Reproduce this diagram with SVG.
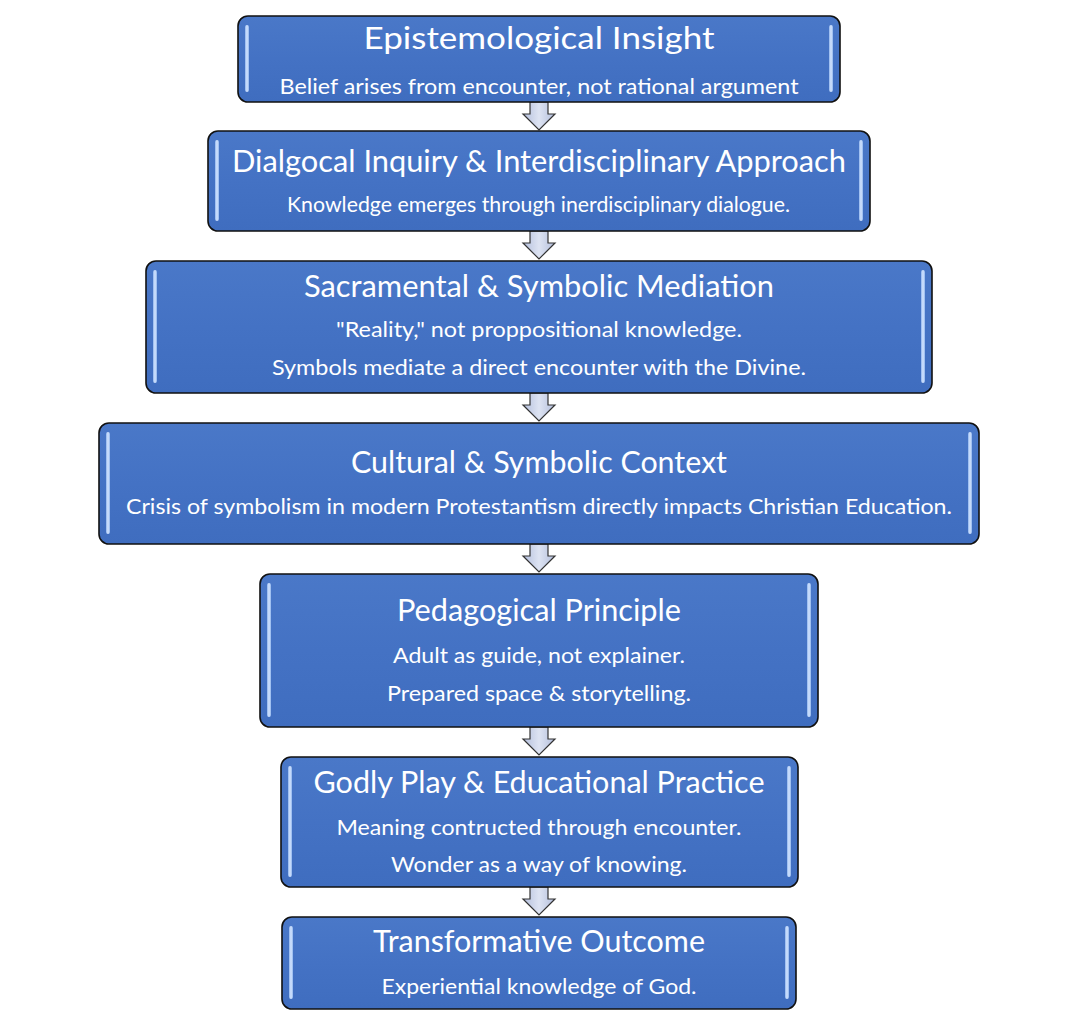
<svg xmlns="http://www.w3.org/2000/svg" width="1078" height="1019" viewBox="0 0 1078 1019">
<defs>
<linearGradient id="boxg" x1="0" y1="0" x2="0" y2="1">
<stop offset="0" stop-color="#4a78c8"/>
<stop offset="0.5" stop-color="#4472c4"/>
<stop offset="1" stop-color="#3f6dbf"/>
</linearGradient>
<linearGradient id="barg" x1="0" y1="0" x2="1" y2="0">
<stop offset="0" stop-color="#8fb4ec"/>
<stop offset="0.5" stop-color="#d6e6ff"/>
<stop offset="1" stop-color="#8fb4ec"/>
</linearGradient>
<linearGradient id="arrg" x1="0" y1="0" x2="1" y2="0">
<stop offset="0" stop-color="#b4bfdc"/>
<stop offset="0.5" stop-color="#dde3f2"/>
<stop offset="1" stop-color="#b4bfdc"/>
</linearGradient>
<path id="arr" d="M-9,0 H9 V12 H16 L0,28 L-16,12 H-9 Z"/>
</defs>
<style>
.box{fill:url(#boxg);stroke:#111;stroke-width:1.6}
.bar{fill:url(#barg)}
.t{font-family:Lato,"Open Sans",sans-serif;fill:#fff;text-anchor:middle}
.h{font-size:31px}
.s{font-size:21px}
.a{fill:url(#arrg);stroke:#333;stroke-width:1.2;stroke-linejoin:miter}
</style>
<rect width="1078" height="1019" fill="#fff"/>
<g id="connectors">
<use href="#arr" class="a" x="539" y="102"/>
<use href="#arr" class="a" x="539" y="231"/>
<use href="#arr" class="a" x="539" y="393"/>
<use href="#arr" class="a" x="539" y="544"/>
<use href="#arr" class="a" x="539" y="727"/>
<use href="#arr" class="a" x="539" y="887"/>
</g>
<g id="n1">
<rect class="box" x="238" y="16" width="602" height="86" rx="10"/>
<rect class="bar" x="245" y="25" width="4" height="67" rx="2"/>
<rect class="bar" x="829" y="25" width="4" height="67" rx="2"/>
<text class="t h" x="539" y="49" textLength="351" lengthAdjust="spacingAndGlyphs">Epistemological Insight</text>
<text class="t s" x="539" y="94" textLength="519" lengthAdjust="spacingAndGlyphs">Belief arises from encounter, not rational argument</text>
</g>
<g id="n2">
<rect class="box" x="208" y="131" width="662" height="100" rx="10"/>
<rect class="bar" x="215" y="140" width="4" height="81" rx="2"/>
<rect class="bar" x="859" y="140" width="4" height="81" rx="2"/>
<text class="t h" x="539" y="172" textLength="614" lengthAdjust="spacingAndGlyphs">Dialgocal Inquiry &amp; Interdisciplinary Approach</text>
<text class="t s" x="538.5" y="212" textLength="503" lengthAdjust="spacingAndGlyphs">Knowledge emerges through inerdisciplinary dialogue.</text>
</g>
<g id="n3">
<rect class="box" x="146" y="261" width="786" height="132" rx="10"/>
<rect class="bar" x="153" y="270" width="4" height="113" rx="2"/>
<rect class="bar" x="921" y="270" width="4" height="113" rx="2"/>
<text class="t h" x="539" y="297" textLength="470" lengthAdjust="spacingAndGlyphs">Sacramental &amp; Symbolic Mediation</text>
<text class="t s" x="539" y="337" textLength="406" lengthAdjust="spacingAndGlyphs">"Reality," not proppositional knowledge.</text>
<text class="t s" x="539" y="375" textLength="534" lengthAdjust="spacingAndGlyphs">Symbols mediate a direct encounter with the Divine.</text>
</g>
<g id="n4">
<rect class="box" x="99" y="423" width="880" height="121" rx="10"/>
<rect class="bar" x="106" y="432" width="4" height="102" rx="2"/>
<rect class="bar" x="968" y="432" width="4" height="102" rx="2"/>
<text class="t h" x="539" y="473" textLength="376" lengthAdjust="spacingAndGlyphs">Cultural &amp; Symbolic Context</text>
<text class="t s" x="539" y="514" textLength="826" lengthAdjust="spacingAndGlyphs">Crisis of symbolism in modern Protestantism directly impacts Christian Education.</text>
</g>
<g id="n5">
<rect class="box" x="260" y="574" width="558" height="153" rx="10"/>
<rect class="bar" x="267" y="583" width="4" height="134" rx="2"/>
<rect class="bar" x="807" y="583" width="4" height="134" rx="2"/>
<text class="t h" x="539" y="621" textLength="284" lengthAdjust="spacingAndGlyphs">Pedagogical Principle</text>
<text class="t s" x="539" y="663" textLength="292" lengthAdjust="spacingAndGlyphs">Adult as guide, not explainer.</text>
<text class="t s" x="539" y="701" textLength="304" lengthAdjust="spacingAndGlyphs">Prepared space &amp; storytelling.</text>
</g>
<g id="n6">
<rect class="box" x="281" y="757" width="517" height="130" rx="10"/>
<rect class="bar" x="288" y="766" width="4" height="111" rx="2"/>
<rect class="bar" x="787" y="766" width="4" height="111" rx="2"/>
<text class="t h" x="539" y="793" textLength="451" lengthAdjust="spacingAndGlyphs">Godly Play &amp; Educational Practice</text>
<text class="t s" x="539" y="835" textLength="405" lengthAdjust="spacingAndGlyphs">Meaning contructed through encounter.</text>
<text class="t s" x="539" y="872" textLength="296" lengthAdjust="spacingAndGlyphs">Wonder as a way of knowing.</text>
</g>
<g id="n7">
<rect class="box" x="282" y="917" width="514" height="92" rx="10"/>
<rect class="bar" x="289" y="926" width="4" height="73" rx="2"/>
<rect class="bar" x="785" y="926" width="4" height="73" rx="2"/>
<text class="t h" x="539" y="952" textLength="332" lengthAdjust="spacingAndGlyphs">Transformative Outcome</text>
<text class="t s" x="539" y="994" textLength="315" lengthAdjust="spacingAndGlyphs">Experiential knowledge of God.</text>
</g>
</svg>
